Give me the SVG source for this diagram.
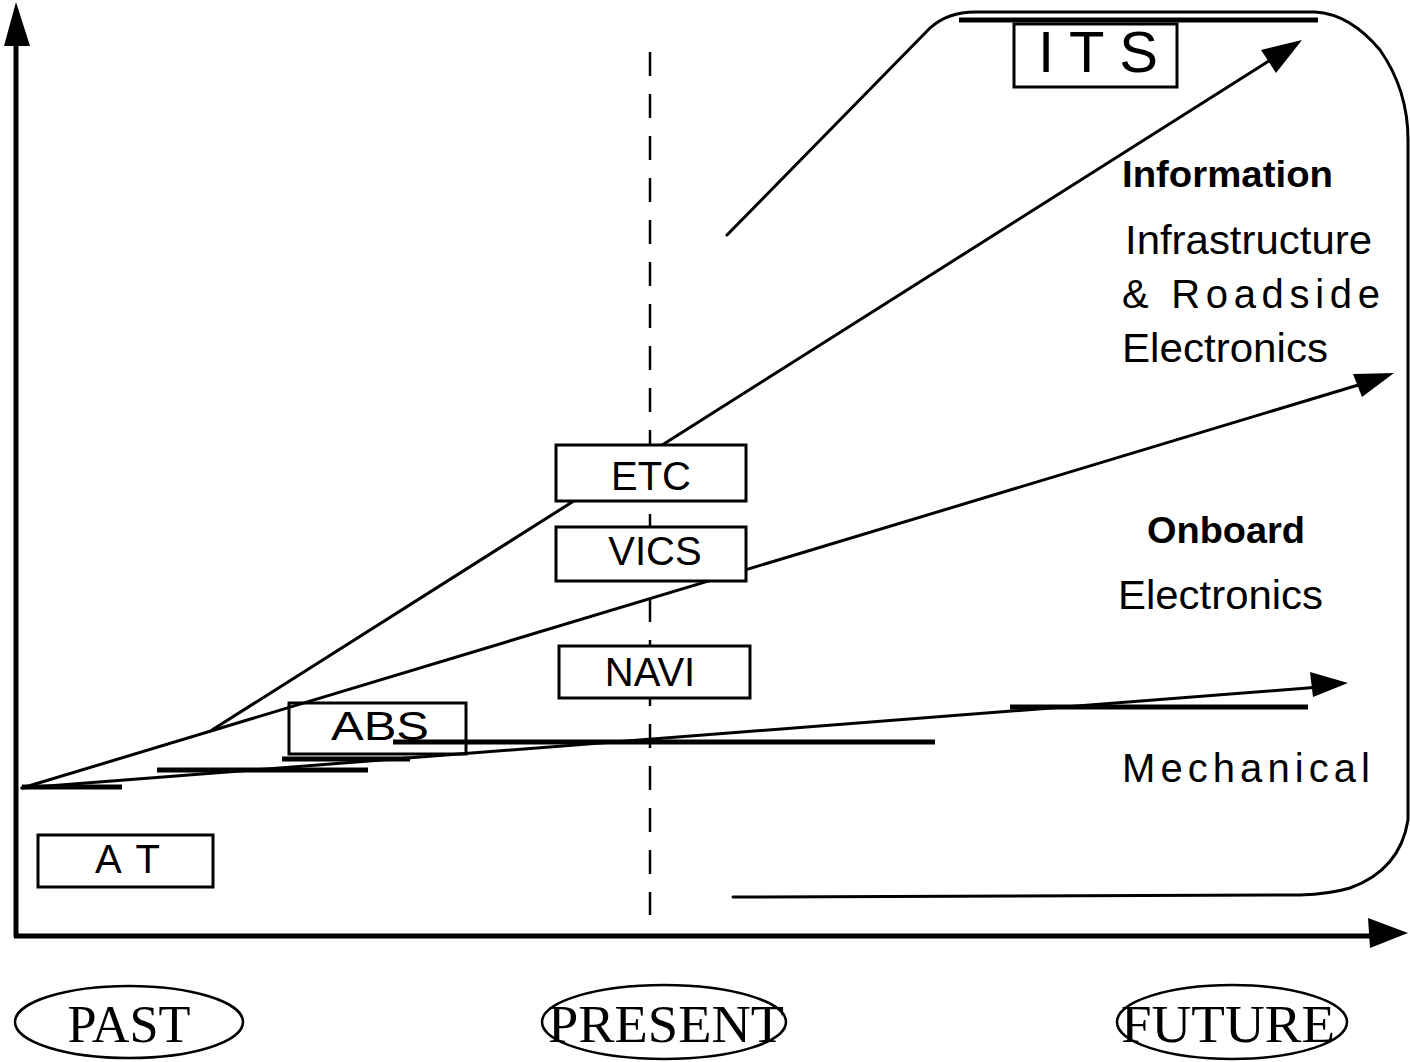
<svg xmlns="http://www.w3.org/2000/svg" width="1410" height="1062" viewBox="0 0 1410 1062">
<style>
.ln{stroke:#000;fill:none;stroke-width:3;stroke-linecap:round}
.bx{fill:#fff;stroke:#000;stroke-width:3}
.t{font-family:"Liberation Sans",Arial,sans-serif;font-size:40px;fill:#000}
.b{font-weight:bold}
.s{font-family:"Liberation Serif","Times New Roman",serif;font-size:52px;fill:#000}
.el{fill:#fff;stroke:#000;stroke-width:2.5}
.hb{stroke:#000;stroke-width:5;fill:none}
</style>
<rect width="1410" height="1062" fill="#fff"/>
<g id="axes">
<line x1="16" y1="40" x2="16" y2="937" stroke="#000" stroke-width="5"/>
<polygon points="16,2 4,46 30,46" fill="#000"/>
<line x1="14" y1="936" x2="1372" y2="936" stroke="#000" stroke-width="5"/>
<polygon points="1408,933 1368,918 1370,948" fill="#000"/>
</g>
<g id="its-region">
<path class="ln" d="M727,235 L930,28 Q948,12 975,12 L1315,12 Q1350,14 1380,50 Q1408,90 1408,140 L1408,820 Q1400,870 1350,888 Q1330,894 1300,895 L733,897"/>
<line class="hb" x1="959" y1="20" x2="1318" y2="20"/>
</g>
<g id="connectors">
<line class="hb" x1="22" y1="787" x2="122" y2="787"/>
<line class="hb" x1="157" y1="770" x2="368" y2="770"/>
<line class="hb" x1="282" y1="759" x2="410" y2="759"/>
<line class="hb" x1="393" y1="742" x2="935" y2="742"/>
<line class="hb" x1="1010" y1="707" x2="1308" y2="707"/>
<line class="ln" x1="22" y1="788" x2="1320" y2="687"/>
<polygon points="1348,683 1310,672 1313,697" fill="#000"/>
<line class="ln" x1="22" y1="788" x2="1365" y2="383"/>
<polygon points="1394,373 1353,374 1362,397" fill="#000"/>
<line class="ln" x1="212" y1="730" x2="1272" y2="59"/>
<polygon points="1302,40 1261,50 1276,73" fill="#000"/>
<line x1="650" y1="52" x2="650" y2="915" stroke="#000" stroke-width="2.5" stroke-dasharray="24,18"/>
</g>
<g id="its"><rect class="bx" x="1014" y="24" width="163" height="63"/><text class="t" x="1038" y="72" style="font-size:58px" textLength="120" lengthAdjust="spacing">I T S</text></g>
<g id="etc"><rect class="bx" x="556" y="445" width="190" height="56"/><text class="t" x="651" y="490" text-anchor="middle">ETC</text></g>
<g id="vics"><rect class="bx" x="556" y="527" width="190" height="54"/><text class="t" x="655" y="565" text-anchor="middle">VICS</text></g>
<g id="navi"><rect class="bx" x="559" y="646" width="191" height="52"/><text class="t" x="650" y="686" text-anchor="middle">NAVI</text></g>
<g id="abs"><rect class="bx" x="289" y="703" width="177" height="51" style="fill:none"/><text class="t" x="331" y="740" textLength="98" lengthAdjust="spacingAndGlyphs">ABS</text></g>
<g id="at"><rect class="bx" x="38" y="835" width="175" height="52"/><text class="t" x="95" y="873" textLength="65" lengthAdjust="spacing">A T</text></g>
<g id="labels">
<text class="t b" x="1122" y="187" style="font-size:36px" textLength="211" lengthAdjust="spacingAndGlyphs">Information</text>
<text class="t" x="1125" y="254" textLength="247" lengthAdjust="spacingAndGlyphs">Infrastructure</text>
<text class="t" x="1122" y="308" textLength="258" lengthAdjust="spacing">&amp; Roadside</text>
<text class="t" x="1122" y="362" textLength="206" lengthAdjust="spacingAndGlyphs">Electronics</text>
<text class="t b" x="1147" y="543" style="font-size:36px" textLength="158" lengthAdjust="spacingAndGlyphs">Onboard</text>
<text class="t" x="1118" y="609" textLength="205" lengthAdjust="spacingAndGlyphs">Electronics</text>
<text class="t" x="1122" y="782" textLength="248" lengthAdjust="spacing">Mechanical</text>
</g>
<g id="past"><ellipse class="el" cx="129" cy="1022" rx="114" ry="36"/><text class="s" x="129" y="1042" text-anchor="middle" textLength="123" lengthAdjust="spacingAndGlyphs">PAST</text></g>
<g id="present"><ellipse class="el" cx="664" cy="1022" rx="122" ry="37"/><text class="s" x="666" y="1042" text-anchor="middle" textLength="236" lengthAdjust="spacingAndGlyphs">PRESENT</text></g>
<g id="future"><ellipse class="el" cx="1232" cy="1022" rx="115" ry="37"/><text class="s" x="1228" y="1042" text-anchor="middle" textLength="214" lengthAdjust="spacingAndGlyphs">FUTURE</text></g>
</svg>
